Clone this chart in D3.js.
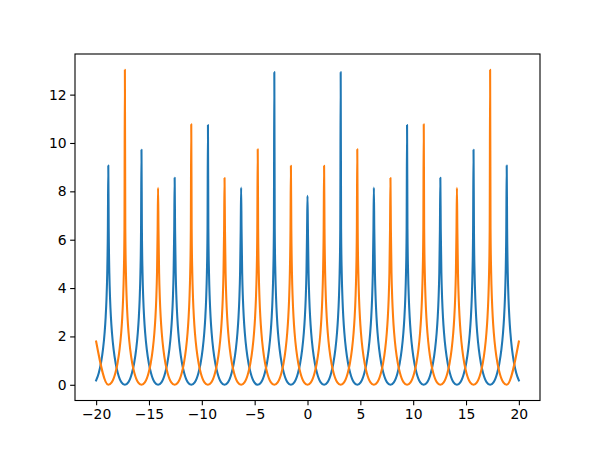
<!DOCTYPE html>
<html>
<head>
<meta charset="utf-8">
<script src="https://cdn.jsdelivr.net/npm/d3@7"></script>
<style>
  body { margin: 0; background: #fff; }
  svg { display: block; font-family: "DejaVu Sans", sans-serif; }
</style>
</head>
<body>
<div class="chartContainer"></div>
<script>
// Ticks
var xTicks = [-20, -15, -10, -5, 0, 5, 10, 15, 20];
var yTicks = [0, 2, 4, 6, 8, 10, 12];

// Blue series: spike positions and heights
var bluePeakX = [-18.85, -15.71, -12.57, -9.42, -6.28, -3.14, 0, 3.14, 6.28, 9.42, 12.57, 15.71, 18.85];
var bluePeakY = [9.07, 9.72, 8.56, 10.74, 8.16, 12.93, 7.82, 12.93, 8.16, 10.74, 8.56, 9.72, 9.07];
var blueEnds = [0.18, 0.18];

// Orange series: spike positions and heights
var orangePeakX = [-17.28, -14.14, -11.0, -7.85, -4.71, -1.57, 1.57, 4.71, 7.85, 11.0, 14.14, 17.28];
var orangePeakY = [13.03, 8.15, 10.77, 8.55, 9.74, 9.06, 9.06, 9.74, 8.55, 10.77, 8.15, 13.03];
var orangeEnds = [1.79, 1.79];

// Shape of one flank: distance from spike -> height
var flankOffset = [0.04, 0.1, 0.17, 0.25, 0.35, 0.5, 0.7, 0.9, 1.25, 1.5708];
var flankHeight = [6.44, 4.61, 3.55, 2.79, 2.14, 1.47, 0.88, 0.49, 0.10, 0];

var blueColor = "#1f77b4";
var orangeColor = "#ff7f0e";

var width = 600, height = 450;
var margin = {left: 75, right: 60, top: 54, bottom: 49.5};

// build the point table for one series from its spikes
var buildPoints = function (peakX, peakY, ends) {
    var pts = [];
    peakX.forEach((px, i) => {
        // left flank
        for (var j = flankOffset.length - 1; j >= 0; j--) {
            if (j == flankOffset.length - 1 && i > 0) continue; // trough already added by previous spike
            pts.push([px - flankOffset[j], flankHeight[j]]);
        }
        pts.push([px, peakY[i]]);
        for (var j = 0; j < flankOffset.length; j++) {
            pts.push([px + flankOffset[j], flankHeight[j]]);
        }
    });
    pts = pts.filter((p) => p[0] > -20 && p[0] < 20);
    pts.unshift([-20, ends[0]]);
    pts.push([20, ends[1]]);
    return pts;
};

var bluePoints = buildPoints(bluePeakX, bluePeakY, blueEnds);
var orangePoints = buildPoints(orangePeakX, orangePeakY, orangeEnds);

var svg = d3.select(".chartContainer").append("svg")
    .attr("width", width)
    .attr("height", height);

var x = d3.scaleLinear().domain([-22, 22]).range([margin.left, width - margin.right]);
var y = d3.scaleLinear().domain([-0.65, 13.68]).range([height - margin.bottom, margin.top]);

var clip = svg.append("clipPath").attr("id", "plotclip").append("rect")
    .attr("x", margin.left).attr("y", margin.top)
    .attr("width", width - margin.left - margin.right)
    .attr("height", height - margin.top - margin.bottom);

var line = d3.line()
    .x((d) => x(d[0]))
    .y((d) => y(d[1]))
    .curve(d3.curveMonotoneX);

var plot = svg.append("g").attr("clip-path", "url(#plotclip)");

plot.append("path")
    .datum(bluePoints)
    .attr("d", line)
    .attr("fill", "none")
    .attr("stroke", blueColor)
    .attr("stroke-width", 2.08)
    .attr("stroke-linejoin", "round")
    .attr("stroke-linecap", "square");

plot.append("path")
    .datum(orangePoints)
    .attr("d", line)
    .attr("fill", "none")
    .attr("stroke", orangeColor)
    .attr("stroke-width", 2.08)
    .attr("stroke-linejoin", "round")
    .attr("stroke-linecap", "square");

var fmt = (v) => (v < 0 ? "\u2212" + Math.abs(v) : "" + v);

var xAxis = d3.axisBottom(x).tickValues(xTicks).tickFormat(fmt).tickSizeOuter(0).tickSize(4.86).tickPadding(3.5);
var yAxis = d3.axisLeft(y).tickValues(yTicks).tickFormat(fmt).tickSizeOuter(0).tickSize(4.86).tickPadding(3.5);

var gx = svg.append("g")
    .attr("transform", "translate(0," + (height - margin.bottom) + ")")
    .call(xAxis);
var gy = svg.append("g")
    .attr("transform", "translate(" + margin.left + ",0)")
    .call(yAxis);

[gx, gy].forEach((g) => {
    g.select(".domain").remove();
    g.selectAll(".tick line").attr("stroke", "#000").attr("stroke-width", 1.1);
    g.selectAll(".tick text")
        .attr("fill", "#000")
        .attr("font-size", "13.9px")
        .attr("font-family", "DejaVu Sans, sans-serif");
});

// frame
svg.append("rect")
    .attr("x", margin.left)
    .attr("y", margin.top)
    .attr("width", width - margin.left - margin.right)
    .attr("height", height - margin.top - margin.bottom)
    .attr("fill", "none")
    .attr("stroke", "#000")
    .attr("stroke-width", 1.1);
</script>
</body>
</html>
